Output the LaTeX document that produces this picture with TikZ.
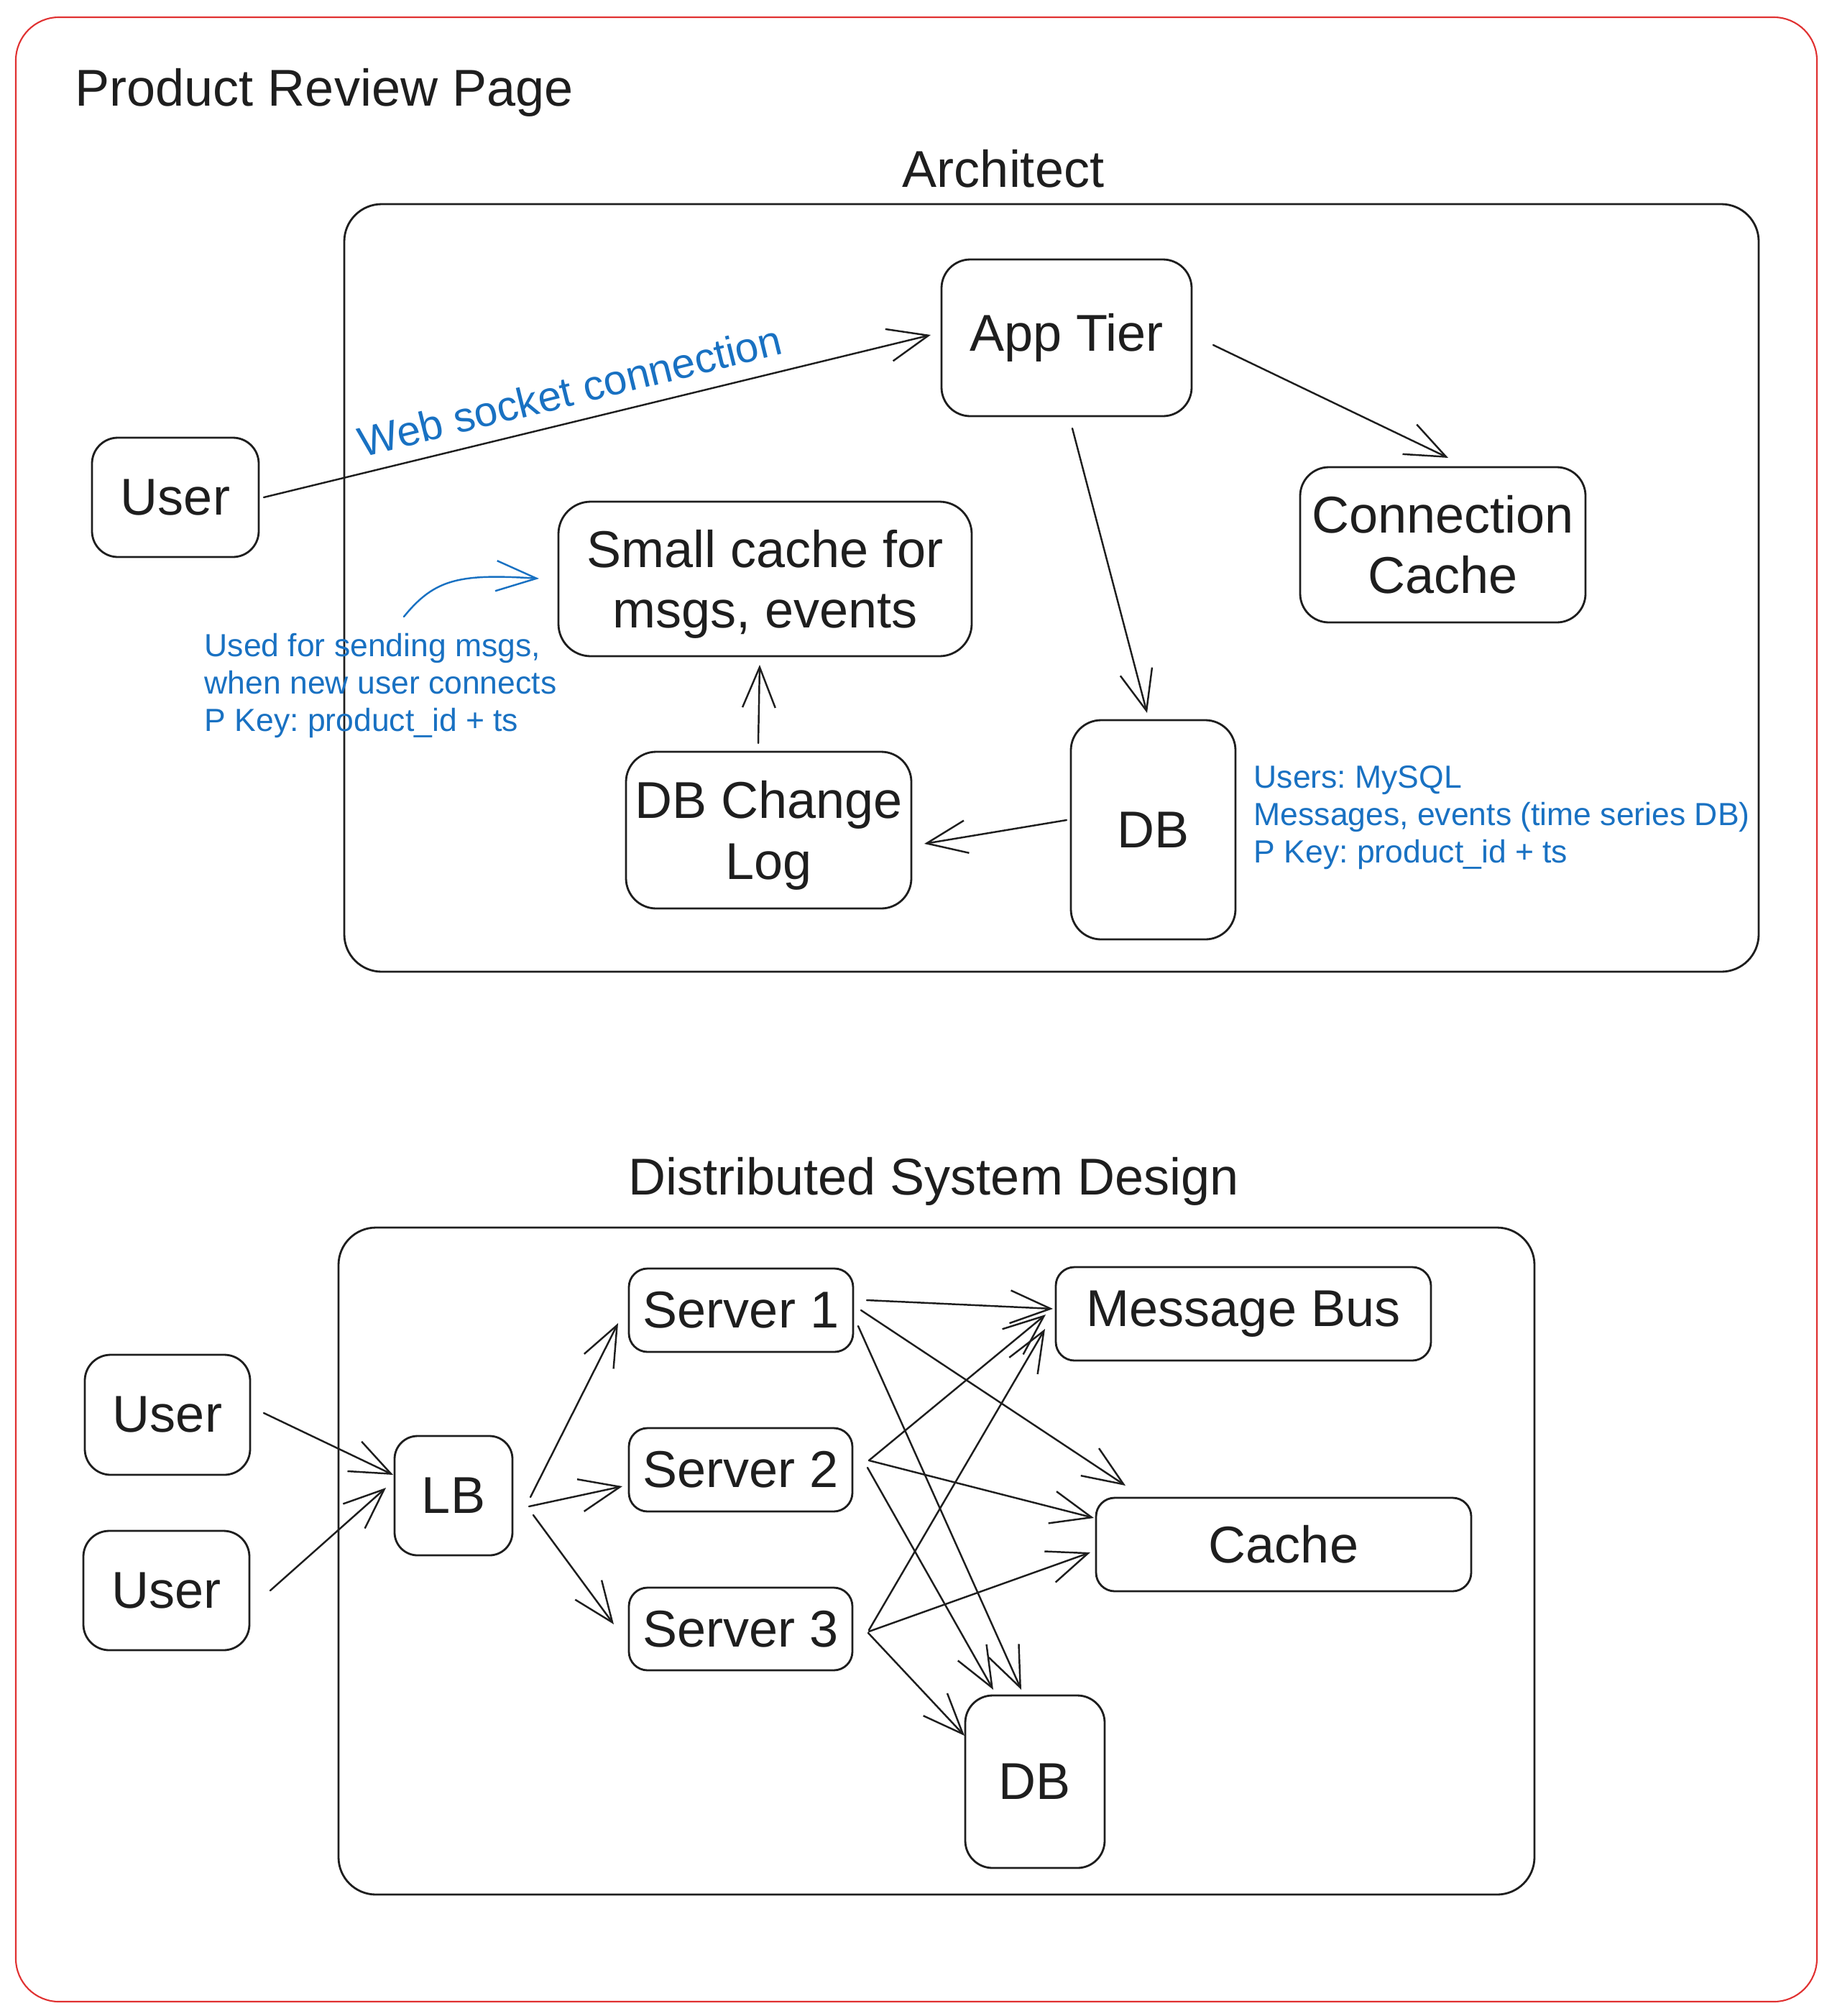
\documentclass[tikz,border=0pt]{standalone}
\usepackage{fontspec}
\setmainfont{Liberation Sans}
\usetikzlibrary{arrows.meta}
\definecolor{ink}{HTML}{1E1E1E}
\definecolor{noteblue}{HTML}{1971C2}
\definecolor{framered}{HTML}{E03131}
\newcommand\mainlabelfont{\fontsize{20.5}{24}\selectfont}
\newcommand\annotfont{\fontsize{12.66}{14.8}\selectfont}
\newcommand\wsfont{\fontsize{16.65}{20}\selectfont}
\newcommand\nodepth[1]{\raisebox{0pt}[\height][0pt]{#1}}
\frenchspacing
\begin{document}
\begin{tikzpicture}[x=1cm,y=-1cm,
  box/.style={draw=ink, line width=0.8pt, rounded corners=0.36cm, inner sep=0pt, align=center, font=\mainlabelfont, text=ink},
  smallbox/.style={box, rounded corners=0.26cm},
  container/.style={draw=ink, line width=0.8pt, rounded corners=0.52cm, inner sep=0pt},
  heading/.style={font=\mainlabelfont, text=ink, inner sep=0pt},
  note/.style={font=\annotfont, text=noteblue, align=left, inner sep=0pt},
  conn/.style={draw=ink, line width=0.7pt, line cap=round, line join=round,
    -{Straight Barb[length=16pt,width=13pt,line width=0.7pt]}},
  noteconn/.style={draw=noteblue, line width=0.7pt, line cap=round, line join=round,
    -{Straight Barb[length=16pt,width=12pt,line width=0.7pt]}}]
\useasboundingbox (0,0) rectangle (25.48,28.05);

% outer frame
\node[draw=framered, line width=0.6pt, rounded corners=0.6cm, inner sep=0pt,
  minimum width=25.06cm, minimum height=27.61cm] (frame) at (12.75,14.045) {};
\node[heading, anchor=base west] (title) at (1.04,1.47) {Product Review Page};

% ---------------- Architect ----------------
\node[heading, anchor=base] (archtitle) at (13.96,2.60) {Architect};
\node[container, minimum width=19.68cm, minimum height=10.68cm] (archbox) at (14.63,8.18) {};

\node[box, minimum width=2.32cm, minimum height=1.66cm] (user) at (2.44,6.92) {User};
\node[box, minimum width=3.48cm, minimum height=2.18cm, rounded corners=0.4cm] (app) at (14.84,4.70) {App Tier};
\node[box, minimum width=3.97cm, minimum height=2.16cm, rounded corners=0.4cm] (conncache) at (20.075,7.58) {Connection\\Cache};
\node[box, minimum width=5.75cm, minimum height=2.15cm, rounded corners=0.45cm] (smallcache) at (10.645,8.055) {Small cache for\\\nodepth{msgs, events}};
\node[box, minimum width=3.97cm, minimum height=2.18cm, rounded corners=0.42cm] (dbcl) at (10.695,11.55) {DB Change\\\nodepth{Log}};
\node[box, minimum width=2.29cm, minimum height=3.05cm, rounded corners=0.42cm] (db) at (16.045,11.545) {DB};

\node[note, anchor=north west] (dbnote) at (17.44,10.65) {Users: MySQL\\Messages, events (time series DB)\\P Key: product\_id + ts};
\node[note, anchor=north west] (cachenote) at (2.84,8.81) {Used for sending msgs,\\when new user connects\\P Key: product\_id + ts};

\node[font=\wsfont, text=noteblue, inner sep=0pt, rotate=13.8, anchor=base] (wslabel) at (7.98,5.64) {Web socket connection};

\draw[conn] ([shift={(1.23,0)}]user.center) -- ([shift={(-1.89,-0.04)}]app.center);
\draw[conn] ([shift={(2.04,0.10)}]app.center) -- ([shift={(0.075,-1.21)}]conncache.center);
\draw[conn] ([shift={(0.08,1.26)}]app.center) -- ([shift={(-0.085,-1.625)}]db.center);
\draw[conn] ([shift={(-1.205,-0.135)}]db.center) -- ([shift={(2.165,0.19)}]dbcl.center);
\draw[conn] ([shift={(-0.145,-1.21)}]dbcl.center) -- ([shift={(-0.075,1.195)}]smallcache.center);

\coordinate (notestart) at (5.62,8.58);
\draw[noteconn] (notestart) .. controls (6.05,8.05) and (6.4,7.98) .. ([shift={(-3.145,-0.005)}]smallcache.center);

% ---------------- Distributed System Design ----------------
\node[heading, anchor=base] (dsdtitle) at (12.99,16.62) {Distributed System Design};
\node[container, minimum width=16.64cm, minimum height=9.28cm] (dsdbox) at (13.03,21.72) {};

\node[box, minimum width=2.30cm, minimum height=1.67cm] (userA) at (2.33,19.685) {User};
\node[box, minimum width=2.31cm, minimum height=1.66cm] (userB) at (2.315,22.13) {User};
\node[box, minimum width=1.64cm, minimum height=1.66cm, rounded corners=0.32cm] (lb) at (6.31,20.81) {LB};
\node[smallbox, minimum width=3.12cm, minimum height=1.16cm] (s1) at (10.31,18.23) {Server 1};
\node[smallbox, minimum width=3.11cm, minimum height=1.16cm] (s2) at (10.305,20.45) {Server 2};
\node[smallbox, minimum width=3.11cm, minimum height=1.15cm] (s3) at (10.305,22.665) {Server 3};
\node[smallbox, minimum width=5.22cm, minimum height=1.30cm] (mbus) at (17.30,18.28) {Message Bus};
\node[smallbox, minimum width=5.22cm, minimum height=1.30cm] (cache) at (17.86,21.49) {Cache};
\node[box, minimum width=1.94cm, minimum height=2.40cm, rounded corners=0.38cm] (dbB) at (14.40,24.79) {DB};

\draw[conn] ([shift={(1.34,-0.025)}]userA.center) -- ([shift={(-0.84,-0.29)}]lb.center);
\draw[conn] ([shift={(1.445,0)}]userB.center) -- ([shift={(-0.94,-0.11)}]lb.center);
\draw[conn] ([shift={(1.07,0.02)}]lb.center) -- ([shift={(-1.71,0.18)}]s1.center);
\draw[conn] ([shift={(1.05,0.15)}]lb.center) -- ([shift={(-1.645,0.23)}]s2.center);
\draw[conn] ([shift={(1.11,0.27)}]lb.center) -- ([shift={(-1.765,-0.065)}]s3.center);

\draw[conn] ([shift={(1.75,-0.14)}]s1.center) -- ([shift={(-2.65,-0.07)}]mbus.center);
\draw[conn] ([shift={(1.67,0)}]s1.center) -- ([shift={(-2.20,-0.82)}]cache.center);
\draw[conn] ([shift={(1.63,0.22)}]s1.center) -- ([shift={(-0.19,-1.28)}]dbB.center);

\draw[conn] ([shift={(1.785,-0.13)}]s2.center) -- ([shift={(-2.75,0.01)}]mbus.center);
\draw[conn] ([shift={(1.785,-0.13)}]s2.center) -- ([shift={(-2.64,-0.37)}]cache.center);
\draw[conn] ([shift={(1.765,-0.03)}]s2.center) -- ([shift={(-0.58,-1.28)}]dbB.center);

\draw[conn] ([shift={(1.785,0.015)}]s3.center) -- ([shift={(-2.76,0.21)}]mbus.center);
\draw[conn] ([shift={(1.785,0.035)}]s3.center) -- ([shift={(-2.69,0.11)}]cache.center);
\draw[conn] ([shift={(1.775,0.055)}]s3.center) -- ([shift={(-0.98,-0.64)}]dbB.center);
\end{tikzpicture}
\end{document}
